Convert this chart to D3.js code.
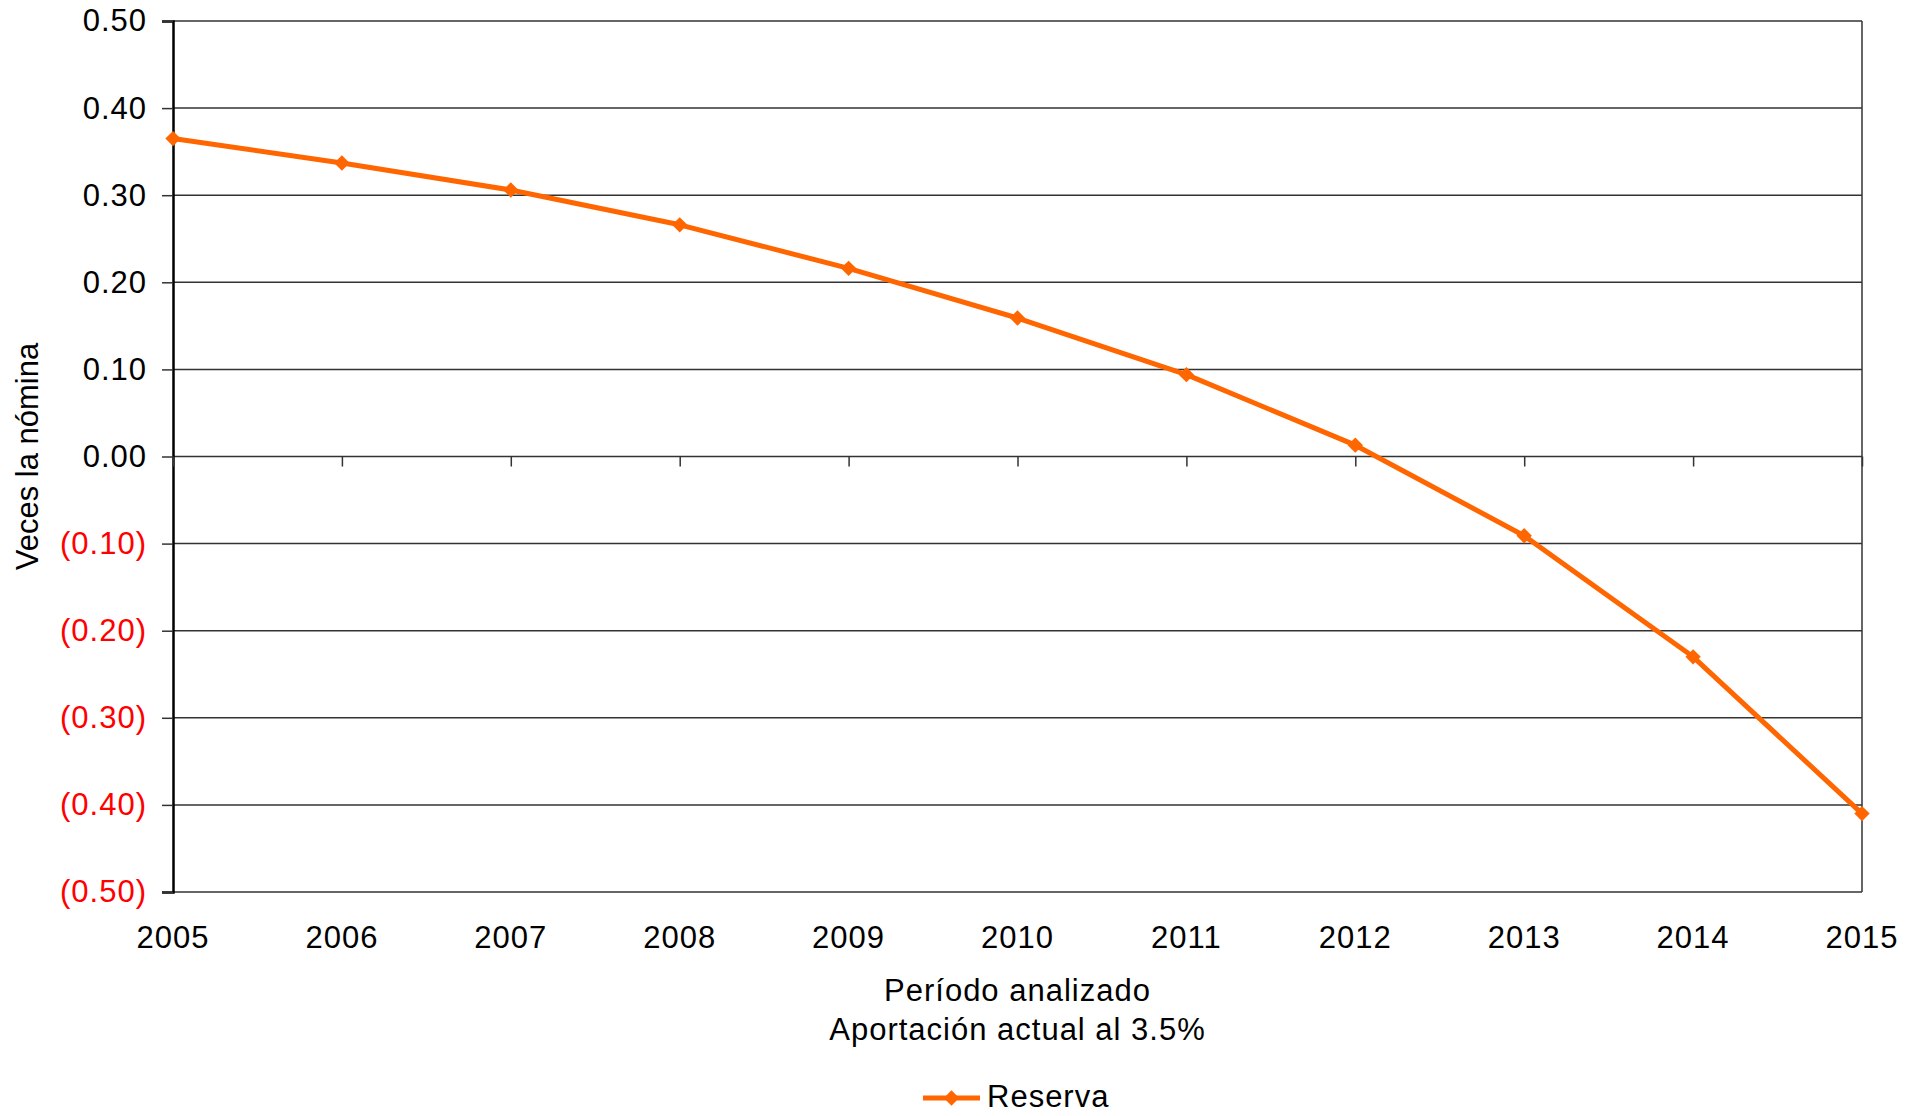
<!DOCTYPE html>
<meta charset="utf-8">
<script src="https://d3js.org/d3.v7.min.js"></script>
<style>
  body { margin: 0; background: #fff; }
  text { font-family: "Liberation Sans", Arial, sans-serif; }
  .lbl { font-size: 31px; letter-spacing: 1px; }
</style>
<div id="chart"></div>
<script>
  // data
  let years = [2005, 2006, 2007, 2008, 2009, 2010, 2011, 2012, 2013, 2014, 2015];
  let reserva = [0.365, 0.337, 0.306, 0.266, 0.216, 0.159, 0.094, 0.013, -0.091, -0.230, -0.410];
  let yTicks = [0.5, 0.4, 0.3, 0.2, 0.1, 0, -0.1, -0.2, -0.3, -0.4, -0.5];
  let seriesName = "Reserva";
  let xTitle = ["Período analizado", "Aportación actual al 3.5%"];
  let yTitle = "Veces la nómina";

  let width = 1921, height = 1116;
  let margin = {left: 173, right: 59, top: 21, bottom: 224};
  let orange = "#ff6600";

  let svg = d3.select("#chart").append("svg")
      .attr("width", width)
      .attr("height", height);

  let x = d3.scaleLinear()
      .domain([d3.min(years), d3.max(years)])
      .range([margin.left, width - margin.right]);

  let y = d3.scaleLinear()
      .domain([-0.5, 0.5])
      .range([height - margin.bottom, margin.top]);

  // horizontal gridlines
  svg.append("g")
    .selectAll("line")
    .data(yTicks)
    .join("line")
      .attr("x1", margin.left)
      .attr("x2", width - margin.right)
      .attr("y1", d => y(d))
      .attr("y2", d => y(d))
      .attr("stroke", "#333")
      .attr("stroke-width", 1.5);

  // right border
  svg.append("line")
      .attr("x1", width - margin.right).attr("x2", width - margin.right)
      .attr("y1", margin.top).attr("y2", height - margin.bottom)
      .attr("stroke", "#333").attr("stroke-width", 1.5);

  // y axis with accounting style labels
  let fmt = d => d < 0 ? "(" + d3.format(".2f")(-d) + ")" : d3.format(".2f")(d);
  let yAxis = svg.append("g")
      .attr("transform", "translate(" + margin.left + ",0)")
      .call(d3.axisLeft(y).tickValues(yTicks).tickFormat(fmt).tickSize(11).tickPadding(15));
  yAxis.select(".domain").attr("stroke", "#000").attr("stroke-width", 2.5);
  yAxis.selectAll(".tick line").attr("stroke", "#333").attr("stroke-width", 1.5);
  yAxis.selectAll(".tick text")
      .attr("class", "lbl")
      .attr("font-size", null)
      .attr("fill", d => d < 0 ? "#ff0000" : "#000");

  // x axis ticks sit on the zero line
  let xAxis = svg.append("g")
      .attr("transform", "translate(0," + y(0) + ")")
      .call(d3.axisBottom(x).tickValues(years).tickFormat("").tickSize(10));
  xAxis.select(".domain").remove();
  xAxis.selectAll(".tick line").attr("stroke", "#333").attr("stroke-width", 1.5);

  // year labels under the plot
  svg.append("g")
    .selectAll("text")
    .data(years)
    .join("text")
      .attr("class", "lbl")
      .attr("x", d => x(d))
      .attr("y", height - margin.bottom + 45)
      .attr("dy", "0.35em")
      .attr("text-anchor", "middle")
      .text(d => d);

  // axis titles
  svg.append("text")
      .attr("class", "lbl")
      .attr("x", (margin.left + width - margin.right) / 2)
      .attr("y", 990)
      .attr("dy", "0.35em")
      .attr("text-anchor", "middle")
      .text(xTitle[0]);
  svg.append("text")
      .attr("class", "lbl")
      .attr("x", (margin.left + width - margin.right) / 2)
      .attr("y", 1029)
      .attr("dy", "0.35em")
      .attr("text-anchor", "middle")
      .text(xTitle[1]);

  svg.append("text")
      .attr("transform", "translate(27," + y(0) + ") rotate(-90)")
      .attr("dy", "0.35em")
      .attr("text-anchor", "middle")
      .style("font-size", "31px")
      .text(yTitle);

  // series line
  let line = d3.line()
      .x((d, i) => x(years[i]))
      .y(d => y(d));

  svg.append("path")
      .datum(reserva)
      .attr("d", line)
      .attr("fill", "none")
      .attr("stroke", orange)
      .attr("stroke-width", 5)
      .attr("stroke-linejoin", "round");

  let diamond = d3.symbol().type(d3.symbolDiamond2).size(150);

  svg.append("g")
    .selectAll("path")
    .data(reserva)
    .join("path")
      .attr("transform", (d, i) => "translate(" + x(years[i]) + "," + y(d) + ")")
      .attr("d", diamond)
      .attr("fill", orange);

  // legend
  let legend = svg.append("g").attr("transform", "translate(923,1098)");
  legend.append("line")
      .attr("x1", 0).attr("x2", 57)
      .attr("stroke", orange).attr("stroke-width", 5);
  legend.append("path")
      .attr("transform", "translate(28.5,0)")
      .attr("d", diamond)
      .attr("fill", orange);
  legend.append("text")
      .attr("class", "lbl")
      .attr("x", 64)
      .attr("dy", "0.3em")
      .text(seriesName);
</script>
</html>
